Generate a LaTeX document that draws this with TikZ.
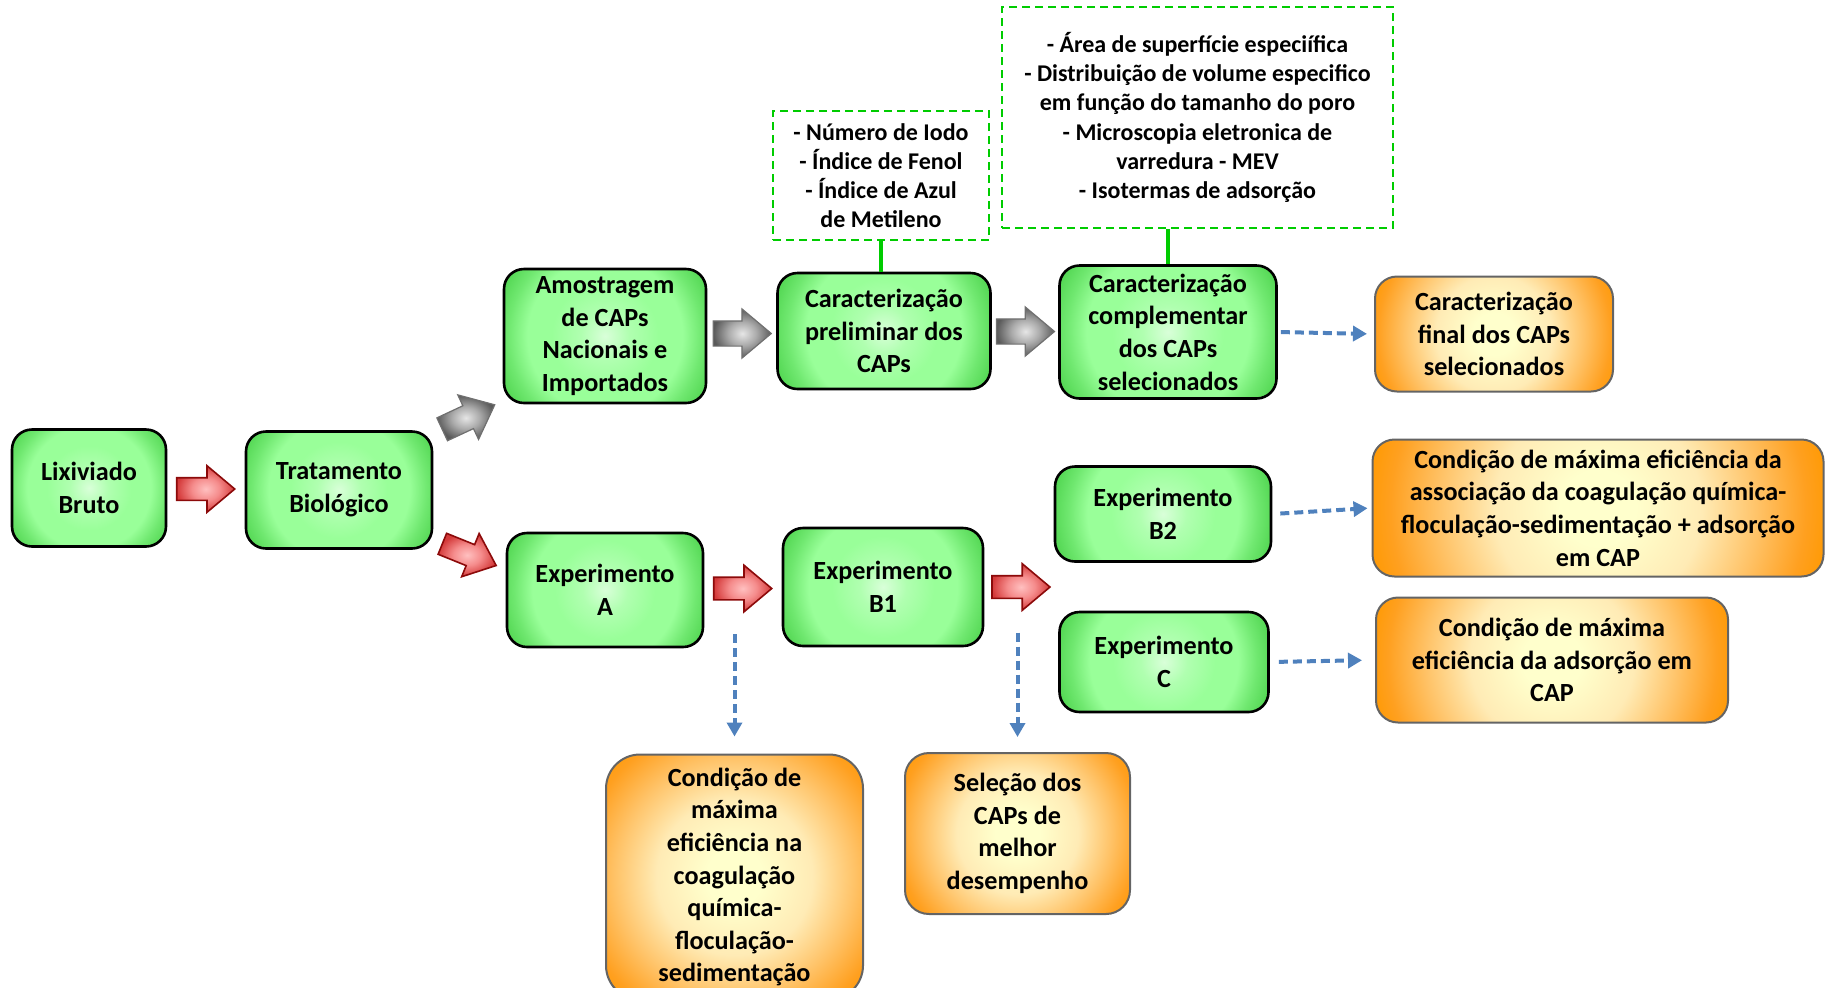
\documentclass[tikz,border=0pt]{standalone}
\usepackage{fontspec}
\setmainfont{Carlito}
\usetikzlibrary{shapes.arrows,calc,arrows.meta}

\definecolor{greenlight}{HTML}{D9FFD9}
\definecolor{greensoft}{HTML}{B0FFB0}
\definecolor{greenmid}{HTML}{99FF99}
\definecolor{greenedge}{HTML}{70E870}
\definecolor{greendark}{HTML}{48D048}
\definecolor{orangelight}{HTML}{FFFFCC}
\definecolor{orangesoft}{HTML}{FFEBB5}
\definecolor{orangemid}{HTML}{FFC266}
\definecolor{orangedeep}{HTML}{FFA020}
\definecolor{orangedark}{HTML}{FF9900}
\definecolor{orangeline}{HTML}{646464}
\definecolor{redlight}{HTML}{FFC0C0}
\definecolor{redmid}{HTML}{F58C8C}
\definecolor{reddark}{HTML}{D43A3A}
\definecolor{redline}{HTML}{8C0A0A}
\definecolor{graylight}{HTML}{E6E6E6}
\definecolor{graymid}{HTML}{ABABAB}
\definecolor{graydark}{HTML}{5A5A5A}
\definecolor{grayline}{HTML}{707070}
\definecolor{listgreen}{HTML}{00CC00}
\definecolor{linkblue}{HTML}{4F81BD}

\pgfdeclareradialshading{greenglow}{\pgfpoint{0bp}{0bp}}{color(0bp)=(greenlight); color(5bp)=(greensoft); color(11bp)=(greenmid); color(16bp)=(greenmid); color(20bp)=(greenedge); color(25bp)=(greendark); color(50bp)=(greendark)}
\pgfdeclareradialshading{orangeglow}{\pgfpoint{0bp}{0bp}}{color(0bp)=(orangelight); color(4bp)=(orangelight); color(11bp)=(orangesoft); color(17bp)=(orangemid); color(22bp)=(orangedeep); color(25bp)=(orangedark); color(50bp)=(orangedark)}
\pgfdeclareradialshading{redglow}{\pgfpoint{0bp}{0bp}}{color(0bp)=(redlight); color(12bp)=(redmid); color(25bp)=(reddark); color(50bp)=(reddark)}
\pgfdeclareradialshading{grayglow}{\pgfpoint{0bp}{0bp}}{color(0bp)=(graylight); color(12bp)=(graymid); color(25bp)=(graydark); color(50bp)=(graydark)}

\tikzset{
  glow/.style={path picture={%
    \pgfpointdiff{\pgfpointanchor{path picture bounding box}{center}}{\pgfpointanchor{path picture bounding box}{north east}}%
    \pgfgetlastxy{\glowx}{\glowy}%
    \pgfmathsetlengthmacro{\glowr}{veclen(\glowx,\glowy)}%
    \shade[shading=#1] (path picture bounding box.center) circle [radius=\glowr];}},
  greenbox/.style={draw=black, line width=1.3pt, rounded corners=10pt, glow=greenglow, align=center, inner sep=0pt, font=\fontsize{13.1}{16.3}\selectfont\bfseries},
  orangebox/.style={draw=orangeline, line width=1pt, rounded corners=11pt, glow=orangeglow, align=center, inner sep=0pt, font=\fontsize{13.1}{16.3}\selectfont\bfseries},
  listbox/.style={draw=listgreen, line width=1pt, dash pattern=on 4pt off 2.5pt, align=center, inner sep=0pt, font=\fontsize{12}{14.6}\selectfont\bfseries},
  listlink/.style={draw=listgreen, line width=1.7pt},
  blockarrow/.style={single arrow, single arrow tip angle=80, single arrow head extend=6pt, inner xsep=0pt, minimum height=29pt},
  redarrow/.style={blockarrow, inner ysep=5.25pt, draw=redline, line width=0.8pt, shading=redglow},
  grayarrow/.style={blockarrow, inner ysep=6pt, draw=grayline, line width=0.6pt, shading=grayglow},
  bluedash/.style={draw=linkblue, line width=2pt, dash pattern=on 4.5pt off 2.5pt, -{Triangle[length=7pt,width=7.5pt]}}
}

\begin{document}
\begin{tikzpicture}[x=0.5pt,y=-0.5pt]
  \useasboundingbox (0,0) rectangle (1825,987);
  \clip (0,0) rectangle (1825,987);

  \node[listbox, minimum width=108pt, minimum height=64.5pt] (iodo) at (881,175.5) {- Número de Iodo\\- Índice de Fenol\\- Índice de Azul\\de Metileno};
  \node[listbox, minimum width=195.5pt, minimum height=110.5pt] (mev) at (1197.5,117.5) {- Área de superfície especiífica\\- Distribuição de volume especifico\\em função do tamanho do poro\\- Microscopia eletronica de\\varredura - MEV\\- Isotermas de adsorção};

  \node[greenbox, minimum width=77pt, minimum height=58.5pt] (lix) at (89,488) {Lixiviado\\Bruto};
  \node[greenbox, minimum width=93pt, minimum height=58.5pt] (trat) at (339,490) {Tratamento\\Biológico};
  \node[greenbox, minimum width=101pt, minimum height=67pt] (amos) at (605,336) {Amostragem\\de CAPs\\Nacionais e\\Importados};
  \node[greenbox, minimum width=106.5pt, minimum height=58pt] (prelim) at (884,331) {Caracterização\\preliminar dos\\CAPs};
  \node[greenbox, minimum width=108.5pt, minimum height=66.5pt] (compl) at (1168,332) {Caracterização\\complementar\\dos CAPs\\selecionados};
  \node[greenbox, minimum width=98pt, minimum height=57pt] (expA) at (605,590) {Experimento\\A};
  \node[greenbox, minimum width=100pt, minimum height=59pt] (expB1) at (883,587) {Experimento\\B1};
  \node[greenbox, minimum width=108pt, minimum height=47.5pt] (expB2) at (1163,514) {Experimento\\B2};
  \node[greenbox, minimum width=104.5pt, minimum height=50pt] (expC) at (1164,662) {Experimento\\C};

  \node[orangebox, minimum width=119pt, minimum height=57.5pt] (final) at (1494,334) {Caracterização\\final dos CAPs\\selecionados};
  \node[orangebox, minimum width=225.5pt, minimum height=68.5pt] (condB2) at (1598,508) {Condição de máxima eficiência da\\associação da coagulação química-\\floculação-sedimentação + adsorção\\em CAP};
  \node[orangebox, minimum width=176pt, minimum height=62.5pt] (condC) at (1552,660) {Condição de máxima\\eficiência da adsorção em\\CAP};
  \node[orangebox, rounded corners=17pt, minimum width=128.5pt, minimum height=122.5pt] (condA) at (734.5,877) {Condição de\\máxima\\eficiência na\\coagulação\\química-\\floculação-\\sedimentação};
  \node[orangebox, rounded corners=12pt, minimum width=112.5pt, minimum height=80.5pt] (selec) at (1017.5,833.5) {Seleção dos\\CAPs de\\melhor\\desempenho};

  \node[redarrow, xshift=-3.5pt] (arrLT) at ($(lix.east)!0.5!(trat.west)$) {};
  \node[grayarrow, rotate=25, xshift=-3.5pt] (arrTA) at ($(trat.north east)!0.5!(amos.south west)$) {};
  \node[redarrow, rotate=-22, xshift=-3.5pt] (arrTE) at ($(trat.south east)!0.5!(expA.north west)+(0,14)$) {};
  \node[grayarrow, xshift=-3.5pt] (arrAP) at ($(amos.east)!0.5!(prelim.west)$) {};
  \node[grayarrow, xshift=-3.5pt] (arrPC) at ($(prelim.east)!0.5!(compl.west)$) {};
  \node[redarrow, xshift=-3.5pt] (arrAB) at ($(expA.east)!0.5!(expB1.west)$) {};
  \node[redarrow, xshift=-3.5pt] (arrBX) at ($(expB1.east)!0.5!(expC.west |- expB1.east)$) {};

  \draw[listlink] (iodo.south) -- (iodo.south |- prelim.north);
  \draw[listlink] (compl.north) -- (compl.north |- mev.south);

  \draw[bluedash, shorten <=1.5pt, shorten >=3.5pt] (compl.east) -- (final.west);
  \draw[bluedash, shorten <=4pt, shorten >=2pt] (expB2.east) -- (condB2.west);
  \draw[bluedash, shorten <=4.5pt, shorten >=6.5pt] (expC.east) -- (condC.west);
  \draw[bluedash, shorten <=22.75pt, shorten >=8.5pt] (condA.north |- arrAB.center) -- (condA.north);
  \draw[bluedash, shorten <=22.75pt, shorten >=7.5pt] (selec.north |- arrBX.center) -- (selec.north);
\end{tikzpicture}
\end{document}
